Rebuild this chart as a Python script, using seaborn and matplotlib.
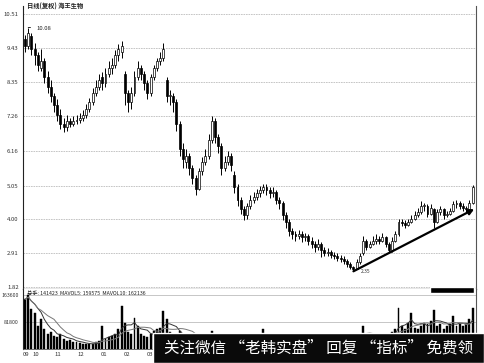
import numpy as np
import pandas as pd
import matplotlib
matplotlib.use("Agg")
import matplotlib.pyplot as plt
import seaborn as sns
from matplotlib.patches import Rectangle

# ---------------- data ----------------
title_text = "日线(复权) 海王生物"
vol_header = "总手: 141423  MAVOL5: 159575  MAVOL10: 162136"
watermark = "关注微信 “老韩实盘” 回复 “指标” 免费领"

open_ = [9.7, 9.5, 9.8, 9.4, 9.2, 8.8, 9.0, 8.5, 8.2, 7.9,
         7.6, 7.3, 7.0, 6.9, 7.1, 7.0, 7.1, 7.15, 7.2, 7.3,
         7.5, 7.7, 8.0, 8.2, 8.5, 8.3, 8.6, 8.8, 8.9, 9.2,
         9.3, 8.6, 8.0, 7.7, 8.0, 8.5, 8.8, 8.6, 8.3, 8.0,
         8.5, 8.8, 9.0, 9.1, 8.4, 7.9, 7.9, 7.7, 7.0, 6.2,
         5.8, 6.0, 5.6, 5.3, 4.95, 5.5, 5.8, 6.0, 6.5, 7.1,
         6.6, 6.3, 5.6, 5.8, 6.0, 5.4, 5.0, 4.6, 4.3, 4.1,
         4.4, 4.6, 4.7, 4.8, 4.9, 5.0, 4.9, 4.8, 4.85, 4.6,
         4.5, 4.1, 3.9, 3.6, 3.5, 3.45, 3.5, 3.4, 3.45, 3.3,
         3.2, 3.1, 3.2, 3.0, 2.9, 2.95, 2.85, 2.8, 2.75, 2.7,
         2.65, 2.55, 2.45, 2.4, 2.6, 2.9, 3.3, 3.1, 3.2, 3.3,
         3.35, 3.3, 3.4, 3.2, 3.0, 3.3, 3.5, 3.9, 3.85, 3.8,
         3.9, 4.0, 4.1, 4.2, 4.4, 4.4, 4.15, 4.3, 3.9, 4.2,
         4.3, 4.1, 4.15, 4.25, 4.45, 4.5, 4.4, 4.35, 4.3, 4.5]

close = [9.5, 9.9, 9.4, 9.2, 8.9, 9.0, 8.5, 8.2, 7.9, 7.6,
         7.3, 7.0, 6.9, 7.1, 7.0, 7.1, 7.15, 7.2, 7.3, 7.5,
         7.7, 8.0, 8.2, 8.4, 8.3, 8.6, 8.8, 8.9, 9.2, 9.4,
         9.5, 8.0, 7.7, 8.0, 8.5, 8.8, 8.6, 8.3, 8.0, 8.5,
         8.8, 9.0, 9.1, 9.4, 7.9, 7.9, 7.7, 7.0, 6.2, 5.9,
         6.0, 5.6, 5.3, 4.95, 5.5, 5.8, 6.0, 6.5, 7.1, 6.6,
         6.3, 5.6, 5.8, 6.0, 5.7, 5.0, 4.6, 4.3, 4.1, 4.4,
         4.6, 4.7, 4.8, 4.9, 5.0, 4.9, 4.8, 4.85, 4.6, 4.5,
         4.1, 3.9, 3.6, 3.5, 3.45, 3.5, 3.4, 3.45, 3.3, 3.2,
         3.1, 3.2, 3.0, 2.9, 2.95, 2.85, 2.8, 2.75, 2.7, 2.65,
         2.55, 2.45, 2.4, 2.6, 2.8, 3.3, 3.1, 3.2, 3.3, 3.35,
         3.3, 3.4, 3.2, 3.0, 3.3, 3.5, 3.9, 3.85, 3.8, 3.9,
         4.0, 4.1, 4.2, 4.4, 4.4, 4.15, 4.35, 3.9, 4.2, 4.3,
         4.1, 4.15, 4.25, 4.45, 4.5, 4.4, 4.35, 4.3, 4.5, 5.0]

high = [9.85, 10.08, 9.9, 9.6, 9.3, 9.4, 9.1, 8.7, 8.4, 8.0,
        7.8, 7.5, 7.2, 7.3, 7.2, 7.25, 7.3, 7.35, 7.45, 7.65,
        7.85, 8.15, 8.4, 8.6, 8.65, 8.8, 9.0, 9.1, 9.35, 9.55,
        9.65, 8.7, 8.1, 8.2, 8.7, 9.0, 8.9, 8.7, 8.4, 8.6,
        8.9, 9.1, 9.3, 9.6, 8.5, 8.1, 8.0, 7.8, 7.1, 6.4,
        6.2, 6.1, 5.7, 5.4, 5.6, 5.95, 6.2, 6.7, 7.25, 7.2,
        6.7, 6.4, 6.0, 6.15, 6.1, 5.5, 5.1, 4.7, 4.4, 4.5,
        4.75, 4.85, 4.95, 5.05, 5.1, 5.1, 5.0, 5.0, 4.9, 4.7,
        4.55, 4.2, 4.0, 3.7, 3.6, 3.65, 3.6, 3.55, 3.5, 3.4,
        3.3, 3.35, 3.25, 3.1, 3.05, 3.0, 2.95, 2.9, 2.85, 2.8,
        2.7, 2.6, 2.5, 2.7, 2.9, 3.45, 3.35, 3.3, 3.45, 3.5,
        3.45, 3.55, 3.45, 3.25, 3.4, 3.6, 4.0, 4.0, 3.95, 4.0,
        4.1, 4.25, 4.35, 4.55, 4.5, 4.45, 4.45, 4.35, 4.3, 4.4,
        4.35, 4.25, 4.35, 4.55, 4.6, 4.55, 4.5, 4.4, 4.6, 5.08]

low = [9.3, 9.4, 9.2, 8.9, 8.7, 8.7, 8.3, 8.0, 7.7, 7.4,
       7.1, 6.85, 6.75, 6.8, 6.9, 6.95, 7.0, 7.05, 7.1, 7.2,
       7.4, 7.6, 7.9, 8.1, 8.1, 8.2, 8.5, 8.6, 8.8, 9.0,
       9.1, 7.6, 7.4, 7.5, 7.9, 8.4, 8.4, 8.1, 7.8, 7.9,
       8.4, 8.7, 8.9, 9.0, 7.7, 7.6, 7.4, 6.8, 6.0, 5.6,
       5.6, 5.4, 5.1, 4.75, 4.9, 5.4, 5.7, 5.9, 6.4, 6.4,
       6.1, 5.4, 5.5, 5.7, 5.5, 4.8, 4.4, 4.15, 3.95, 4.0,
       4.3, 4.5, 4.6, 4.7, 4.8, 4.75, 4.65, 4.7, 4.45, 4.3,
       3.95, 3.7, 3.45, 3.35, 3.3, 3.35, 3.25, 3.3, 3.15, 3.05,
       2.95, 3.0, 2.78, 2.8, 2.8, 2.75, 2.7, 2.65, 2.6, 2.55,
       2.45, 2.4, 2.35, 2.38, 2.55, 2.85, 3.0, 3.05, 3.15, 3.2,
       3.2, 3.25, 3.1, 2.95, 2.95, 3.25, 3.45, 3.75, 3.7, 3.75,
       3.85, 3.95, 4.05, 4.15, 4.25, 4.05, 4.1, 3.7, 3.85, 4.1,
       4.0, 4.05, 4.1, 4.2, 4.35, 4.3, 4.25, 4.2, 4.25, 4.45]

volume_k = [150, 165, 120, 110, 70, 90, 60, 45, 50, 40,
            35, 45, 30, 25, 28, 22, 20, 18, 16, 15,
            14, 15, 20, 25, 70, 30, 35, 40, 45, 60,
            130, 80, 50, 45, 95, 70, 45, 40, 35, 45,
            55, 60, 65, 115, 90, 50, 40, 45, 55, 40,
            35, 30, 35, 40, 35, 40, 35, 45, 55, 40,
            35, 30, 28, 32, 30, 35, 30, 25, 28, 30,
            25, 22, 25, 28, 60, 25, 22, 20, 25, 28,
            30, 28, 25, 22, 20, 22, 25, 20, 18, 20,
            22, 25, 20, 18, 20, 22, 18, 20, 22, 25,
            28, 30, 35, 40, 45, 70, 45, 40, 35, 40,
            38, 35, 40, 45, 50, 60, 124, 70, 60, 80,
            109, 65, 60, 70, 80, 75, 85, 118, 70, 75,
            60, 70, 75, 100, 70, 75, 70, 75, 90, 124]

price_ticks = [10.51, 9.43, 8.35, 7.26, 6.16, 5.05, 4.00, 2.91, 1.82]
price_tick_labels = ["10.51", "9.43", "8.35", "7.26", "6.16", "5.05", "4.00", "2.91", "1.82"]
vol_ticks_k = [163.6, 81.8]
vol_tick_labels = ["163600", "81800"]
month_labels = ["09", "10", "11", "12", "01", "02", "03"]
high_label = "10.08"
low_label = "2.35"
trend_end_value = 4.30

# ---------------- figure ----------------
sns.set_style("white")
plt.rcParams['font.family'] = ['Noto Sans CJK SC', 'DejaVu Sans']

W, H = 484, 363
fig = plt.figure(figsize=(W / 100, H / 100), dpi=100)
fig.patch.set_facecolor("white")

L, R = 23, 476
ax = fig.add_axes([L / W, 1 - 289 / H, (R - L) / W, (289 - 6) / H])
axv = fig.add_axes([L / W, 1 - 349 / H, (R - L) / W, (349 - 289) / H], sharex=ax)

o = np.array(open_); c = np.array(close); hi = np.array(high); lo = np.array(low)
n = len(c)
idx = np.arange(n)
up = c >= o

# candles
ax.vlines(idx, lo, hi, color="black", lw=0.7, zorder=2)
body = np.abs(c - o)
body = np.where(body < 0.02, 0.02, body)
ax.bar(idx[up], body[up], bottom=np.minimum(o, c)[up], width=0.6,
       facecolor="white", edgecolor="black", lw=0.5, zorder=3)
ax.bar(idx[~up], body[~up], bottom=np.minimum(o, c)[~up], width=0.6,
       facecolor="black", edgecolor="black", lw=0.5, zorder=3)

per_px = (10.51 - 1.82) / (287 - 14)
ax.set_ylim(1.82 - 2 * per_px, 10.51 + 8 * per_px)
ax.set_xlim(-0.62, (R - 25) / 3.22)
ax.set_yticks(price_ticks)
ax.set_yticklabels(price_tick_labels)
for t in price_ticks:
    ax.axhline(t, color="#bdbdbd", lw=0.6, ls=(0, (2, 1)), zorder=0)
ax.tick_params(axis="y", labelsize=4.3, length=2, width=0.5, pad=1, colors="#333333")
ax.tick_params(axis="x", bottom=False, labelbottom=False)
ax.spines["top"].set_visible(False)
ax.spines["left"].set_color("#222222"); ax.spines["left"].set_linewidth(0.8)
ax.spines["right"].set_color("#555555"); ax.spines["right"].set_linewidth(0.8)
ax.spines["bottom"].set_color("#888888"); ax.spines["bottom"].set_linewidth(1.0)

ax.text(0.008, 1.0, title_text, transform=ax.transAxes, fontsize=4.5,
        fontweight="bold", va="center", ha="left", color="#222222")

# high / low labels
imax = int(np.argmax(hi)); imin = int(np.argmin(lo))
ax.annotate(high_label, xy=(imax, hi[imax]), xytext=(6, -0.5), textcoords="offset points",
            fontsize=4.3, va="center", ha="left",
            arrowprops=dict(arrowstyle="-", lw=0.6, color="black"))
ax.annotate(low_label, xy=(imin, lo[imin]), xytext=(5, -1), textcoords="offset points",
            fontsize=3.6, va="center", ha="left", color="#333333")

# trend arrow
ax.annotate("", xy=(n - 0.5, trend_end_value), xytext=(imin, lo[imin] - 0.03),
            arrowprops=dict(arrowstyle="-|>", lw=1.6, color="black", mutation_scale=8,
                            shrinkA=0, shrinkB=0), zorder=5)

# volume
vol = pd.Series(volume_k, dtype=float)
axv.bar(idx, vol, width=0.6, color="black", edgecolor="black", lw=0.3, zorder=2)
ma5 = vol.rolling(5, min_periods=1).mean()
ma10 = vol.rolling(10, min_periods=1).mean()
sns.lineplot(x=idx, y=ma5.values, ax=axv, color="#333333", lw=0.7, zorder=3)
sns.lineplot(x=idx, y=ma10.values, ax=axv, color="#777777", lw=0.7, zorder=3)
axv.set_ylim(0, (349 - 289) / 27 * 81.8)
axv.set_yticks(vol_ticks_k)
axv.set_yticklabels(vol_tick_labels)
for t in vol_ticks_k:
    axv.axhline(t, color="#bdbdbd", lw=0.6, zorder=0)
axv.tick_params(axis="y", labelsize=3.8, length=2, width=0.5, pad=1, colors="#333333")
axv.spines["top"].set_visible(False)
axv.spines["left"].set_color("#222222"); axv.spines["left"].set_linewidth(0.8)
axv.spines["right"].set_color("#555555"); axv.spines["right"].set_linewidth(0.8)
axv.spines["bottom"].set_color("#555555"); axv.spines["bottom"].set_linewidth(0.6)
axv.text(0.008, 0.93, vol_header, transform=axv.transAxes, fontsize=3.8,
         va="center", ha="left", color="#222222")

month_pos = [-0.62] + [2.2 + (k - 1) * 7.1 for k in range(1, len(month_labels))]
axv.set_xticks(month_pos)
axv.set_xticklabels(month_labels, ha="left")
axv.tick_params(axis="x", labelsize=4.3, length=0, pad=2, colors="#333333")
axv.set_xlim(-0.62, (R - 25) / 3.22)

# scroll block
fig.patches.append(Rectangle((430 / W, 1 - 293 / H), 44 / W, 6 / H,
                             transform=fig.transFigure, facecolor="black", zorder=10))

# watermark banner
fig.patches.append(Rectangle((153 / W, 0), (W - 153) / W, 30 / H,
                             transform=fig.transFigure, facecolor="#0a0a0a", zorder=20))
fig.text(319 / W, 1 - 348 / H, watermark, fontsize=11.2, color="white",
         ha="center", va="center", zorder=21)

fig.savefig("out.png", dpi=100)
